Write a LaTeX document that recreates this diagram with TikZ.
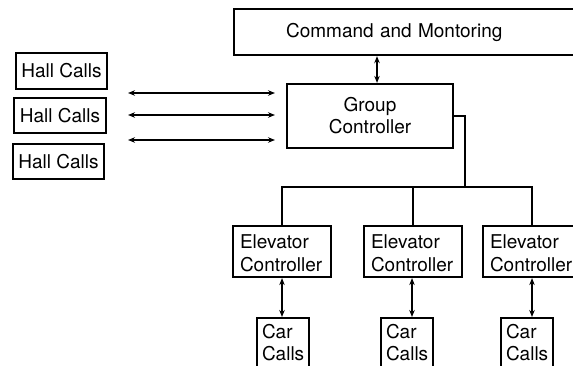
\documentclass[tikz,border=0pt]{standalone}
\usepackage{fontspec}
\setmainfont{TeX Gyre Heros}
\usetikzlibrary{positioning, calc, arrows.meta}

\begin{document}
\begin{tikzpicture}[x=1pt, y=-1pt,
    box/.style={draw, line width=2.2pt, inner sep=0pt, font=\fontsize{19}{22}\selectfont},
    ecbox/.style={box, text width=84pt, inner xsep=7pt, align=left, text height=23pt, text depth=28pt},
    carbox/.style={box, anchor=north, text width=42pt, inner xsep=5pt, align=left, text height=20pt, text depth=36pt},
    wire/.style={line width=2.2pt},
    link/.style={{Stealth[length=7pt,width=5.5pt]}-{Stealth[length=7pt,width=5.5pt]}, line width=1.8pt}]
  \fill[white] (0,0) rectangle (573,366);
  \useasboundingbox (0,0) rectangle (573,366);

  \node[box, anchor=north west, minimum height=46pt, text width=280pt, inner xsep=52pt, align=left] (cmd) at (233,8) {Command and Montoring};

  \node[box, minimum width=91pt, minimum height=36pt] (hall1) at (61.5,71) {Hall Calls};
  \node[box, minimum width=92pt, minimum height=35pt] (hall2) at (60,115.5) {Hall Calls};
  \node[box, minimum width=91pt, minimum height=35pt] (hall3) at (58.5,161.5) {Hall Calls};

  \node[box, minimum width=166pt, minimum height=64pt, align=center] (grp) at (370,116) {Group\\Controller};

  \node[ecbox] (ec1) at (282,251.5) {Elevator\\Controller};
  \node[ecbox] (ec2) at (413,251.5) {Elevator\\Controller};
  \node[ecbox] (ec3) at (532,251.5) {Elevator\\Controller};

  \node[carbox] (car1) at (283,317) {Car\\Calls};
  \node[carbox] (car2) at (407,317) {Car\\Calls};
  \node[carbox] (car3) at (527,317) {Car\\Calls};

  % hall call lines to the group controller
  \coordinate (h1a) at (128,93);
  \coordinate (h1b) at (275,93);
  \coordinate (h2a) at (128,115);
  \coordinate (h2b) at (275,115);
  \coordinate (h3a) at (128,140);
  \coordinate (h3b) at (275,140);
  \draw[link, line width=1.3pt] (h1a) -- (h1b);
  \draw[link] (h2a) -- (h2b);
  \draw[link, line width=1.3pt] (h3a) -- (h3b);

  \draw[link] ([xshift=7pt]grp.north) -- ([xshift=7pt]grp.north |- cmd.south);

  % bus to the elevator controllers
  \coordinate (bus) at (465,187);
  \draw[wire] (grp.east) -| (bus);
  \draw[wire] (ec1.north) |- (bus) -| (ec3.north);
  \draw[wire] (ec2.north) -- (ec2.north |- bus);

  \draw[link] (ec1.south) -- (ec1.south |- car1.north);
  \draw[link] ([xshift=-1pt]ec2.south) -- ([xshift=-1pt]ec2.south |- car2.north);
  \draw[link] (ec3.south) -- (ec3.south |- car3.north);
\end{tikzpicture}
\end{document}
